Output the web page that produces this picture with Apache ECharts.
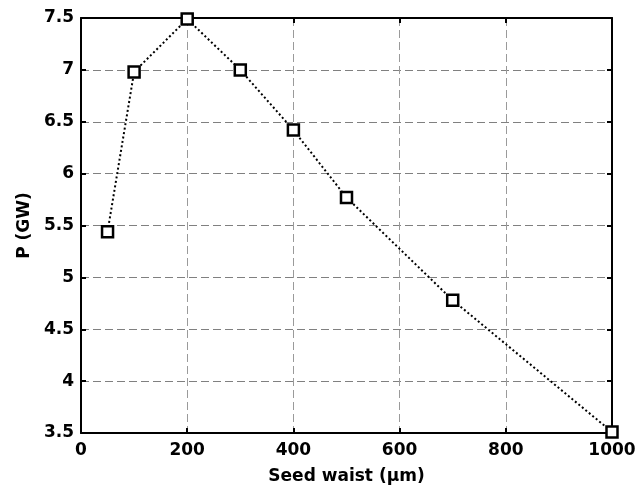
<!DOCTYPE html>
<html>
<head>
<meta charset="utf-8">
<script src="https://cdn.jsdelivr.net/npm/echarts@6/dist/echarts.min.js"></script>
<style>
  html, body { margin: 0; padding: 0; background: #fff; }
  #chart { width: 635px; height: 490px; }
</style>
</head>
<body>
<div id="chart"></div>
<script>
// Peak power versus seed waist
const seedWaist = [50, 100, 200, 300, 400, 500, 700, 1000];
const powerGW = [5.44, 6.98, 7.49, 7.0, 6.42, 5.77, 4.78, 3.51];

const xTicks = { min: 0, max: 1000, interval: 200 };
const yTicks = { min: 3.5, max: 7.5, interval: 0.5 };

const font = '"DejaVu Sans", "Liberation Sans", Arial, sans-serif';
const labelStyle = { color: '#000', fontFamily: font, fontWeight: 'bold', fontSize: 17 };
const hGrid = { show: true, lineStyle: { color: '#808080', type: [8, 4], width: 1 } };
const vGrid = { show: true, lineStyle: { color: '#9a9a9a', type: [8, 4], width: 1 } };
const frame = { show: true, onZero: false, lineStyle: { color: '#000', width: 2 } };
const innerTick = { show: true, inside: true, length: 5, lineStyle: { color: '#000', width: 2 } };

const chart = echarts.init(document.getElementById('chart'));
chart.setOption({
  animation: false,
  backgroundColor: '#fff',
  grid: { left: 81, right: 23, top: 18, bottom: 57, containLabel: false, outerBoundsMode: 'none' },
  xAxis: [
    {
      type: 'value', position: 'bottom', ...xTicks,
      axisLine: frame, axisTick: innerTick, splitLine: vGrid,
      axisLabel: { ...labelStyle, margin: 9, formatter: v => String(v) },
      name: 'Seed waist (\u03bcm)', nameLocation: 'middle', nameGap: 35,
      nameTextStyle: labelStyle
    },
    {
      type: 'value', position: 'top', ...xTicks,
      axisLine: frame, axisTick: innerTick, splitLine: { show: false },
      axisLabel: { show: false }
    }
  ],
  yAxis: [
    {
      type: 'value', position: 'left', ...yTicks,
      axisLine: frame, axisTick: innerTick, splitLine: hGrid,
      axisLabel: { ...labelStyle, margin: 7 },
      name: 'P (GW)', nameLocation: 'middle', nameGap: 48,
      nameTextStyle: labelStyle
    },
    {
      type: 'value', position: 'right', ...yTicks,
      axisLine: frame, axisTick: innerTick, splitLine: { show: false },
      axisLabel: { show: false }
    }
  ],
  series: [{
    type: 'line',
    data: seedWaist.map((x, i) => [x, powerGW[i]]),
    symbol: 'rect',
    symbolSize: 11,
    showAllSymbol: true,
    lineStyle: { color: '#000', width: 2, type: [2, 2.5] },
    itemStyle: { color: '#fff', borderColor: '#000', borderWidth: 2.5 },
    clip: false,
    z: 5
  }]
});
</script>
</body>
</html>
